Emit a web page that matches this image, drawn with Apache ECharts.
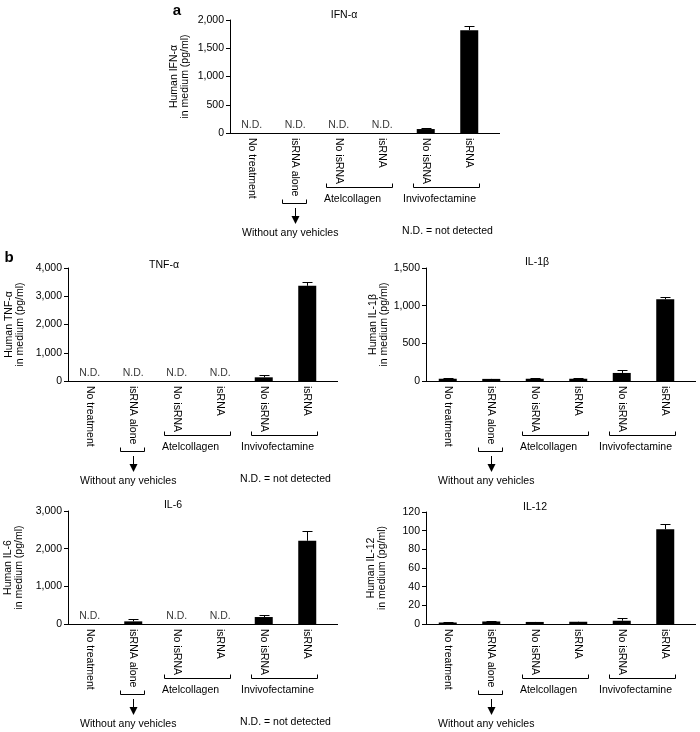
<!DOCTYPE html>
<html><head><meta charset="utf-8">
<script src="https://cdn.jsdelivr.net/npm/echarts@6/dist/echarts.min.js"></script>
<style>html,body{margin:0;padding:0;background:#fff}#c{width:700px;height:732px}</style>
</head><body><div id="c"></div>
<script>
// ---- data ----
const categories = ['No treatment','isRNA alone','No isRNA','isRNA','No isRNA','isRNA'];
const ifnMean  = [null,null,null,null,70,1820];
const ifnErr   = [null,null,null,null,25,75];
const tnfMean  = [null,null,null,null,130,3370];
const tnfErr   = [null,null,null,null,100,150];
const il1bMean = [30,28,30,30,107,1085];
const il1bErr  = [8,5,6,8,44,27];
const il6Mean  = [null,70,null,null,185,2210];
const il6Err   = [null,60,null,null,60,250];
const il12Mean = [1.6,2.7,2.2,2.4,3.5,101.5];
const il12Err  = [0.3,0.3,0.2,0.2,3,6];
const panelTitles = ['IFN-\u03b1','TNF-\u03b1','IL-1\u03b2','IL-6','IL-12'];
const yNames = ['Human IFN-\u03b1\nin medium (pg/ml)','Human TNF-\u03b1\nin medium (pg/ml)','Human IL-1\u03b2\nin medium (pg/ml)','Human IL-6\nin medium (pg/ml)','Human IL-12\nin medium (pg/ml)'];
const yMax  = [2000,4000,1500,3000,120];
const yStep = [500,1000,500,1000,20];
const groupLabels = ['Atelcollagen','Invivofectamine'];
const groupRanges = [[2,3],[4,5]];
const vehicleIndex = 1;
const vehicleNote = 'Without any vehicles';
const ndNote = 'N.D. = not detected';
const ndText = 'N.D.';
const panelLetters = ['a','b'];

const means = [ifnMean, tnfMean, il1bMean, il6Mean, il12Mean];
const errs  = [ifnErr, tnfErr, il1bErr, il6Err, il12Err];

// ---- layout ----
const FONT = '"Liberation Sans", Arial, Helvetica, sans-serif';
const FS = 10.5;
const grids = [
  {left:230, top:20,  width:261, height:113},
  {left:68,  top:268, width:261, height:113},
  {left:426, top:268, width:261, height:113},
  {left:68,  top:511, width:261, height:113},
  {left:426, top:512, width:261, height:112}
];
const axisOverhang = 9;
const nameGaps = [39, 42, 36, 43, 38];
const titlePos = [[344,15],[164,265],[537,262],[173,505],[535,507]];
const letterPos = [[177,11],[9,258]];

const xAxes = [], yAxes = [], series = [];
grids.forEach((g, k) => {
  xAxes.push({
    type:'category', gridIndex:k, data:categories,
    axisLine:{lineStyle:{color:'#000', width:1}},
    axisTick:{show:false},
    axisLabel:{interval:0, rotate:-90, margin:5, color:'#000', fontSize:FS, fontFamily:FONT}
  });
  yAxes.push({
    type:'value', gridIndex:k, min:0, max:yMax[k], interval:yStep[k],
    name:yNames[k], nameLocation:'middle', nameRotate:90, nameGap:nameGaps[k],
    nameTextStyle:{color:'#000', fontSize:FS, fontFamily:FONT, lineHeight:11},
    axisLine:{show:true, lineStyle:{color:'#000', width:1}},
    axisTick:{show:true, length:4, lineStyle:{color:'#000'}},
    splitLine:{show:false},
    axisLabel:{margin:6, color:'#000', fontSize:FS, fontFamily:FONT,
      formatter: v => v.toLocaleString('en-US')}
  });
  series.push({
    type:'bar', xAxisIndex:k, yAxisIndex:k, data:means[k], barWidth:18,
    itemStyle:{color:'#000'}, silent:true, animation:false
  });
  series.push({
    type:'custom', xAxisIndex:k, yAxisIndex:k, animation:false, silent:true, z:5,
    data: means[k].map((m,i) => m == null ? null : [i, m, errs[k][i]]).filter(d => d),
    encode:{x:0, y:1},
    renderItem:(params, api) => {
      const i = api.value(0), m = api.value(1), e = api.value(2);
      const b = api.coord([i, m]); const t = api.coord([i, m + e]);
      const x = Math.round(b[0]) + 0.5;
      const ty = Math.round(t[1]) + 0.5;
      return {type:'group', children:[
        {type:'line', shape:{x1:x, y1:b[1], x2:x, y2:ty}, style:{stroke:'#000', lineWidth:1}},
        {type:'line', shape:{x1:x-5, y1:ty, x2:x+5, y2:ty}, style:{stroke:'#000', lineWidth:1}}
      ]};
    }
  });
  series.push({
    type:'scatter', xAxisIndex:k, yAxisIndex:k, animation:false, silent:true,
    symbolSize:1, itemStyle:{color:'rgba(0,0,0,0)'},
    data: means[k].map((m,i) => m == null ? [i, 0] : null).filter(d => d),
    label:{show:true, position:'top', distance:2, formatter:ndText, color:'#000', fontSize:FS, fontFamily:FONT}
  });
});

const chart = echarts.init(document.getElementById('c'), null, {renderer:'canvas'});
chart.setOption({
  backgroundColor:'#fff', animation:false,
  grid: grids.map(g => Object.assign({containLabel:false}, g)),
  xAxis:xAxes, yAxis:yAxes, series:series
});

// ---- annotations placed from axis positions ----
const elems = [];
function txt(s, x, y, opts){
  elems.push({type:'text', silent:true, style:Object.assign({text:s, x:x, y:y, align:'center', verticalAlign:'middle',
    fill:'#000', fontSize:FS, fontFamily:FONT}, opts || {})});
}
function line(points){
  elems.push({type:'polyline', silent:true, shape:{points:points}, style:{stroke:'#000', lineWidth:1, fill:null}});
}
panelTitles.forEach((t,k) => txt(t, titlePos[k][0], titlePos[k][1]));
panelLetters.forEach((l,k) => txt(l, letterPos[k][0], letterPos[k][1], {fontSize:15, fontWeight:'bold'}));

grids.forEach((g, k) => {
  const cx = i => chart.convertToPixel({xAxisIndex:k, yAxisIndex:k}, [i, 0])[0];
  const y0 = Math.round(chart.convertToPixel({xAxisIndex:k, yAxisIndex:k}, [0, 0])[1]);
  // axis line overhang past the last category
  const gr = g.left + g.width;
  line([[gr, y0 + 0.5],[gr + axisOverhang, y0 + 0.5]]);
  groupRanges.forEach((r, j) => {
    const x1 = Math.round(cx(r[0]) - 13) + 0.5, x2 = Math.round(cx(r[1]) + 10) + 0.5;
    const y = y0 + 54 + 0.5;
    line([[x1, y-4],[x1, y],[x2, y],[x2, y-4]]);
    txt(groupLabels[j], (x1 + x2) / 2 - 7, y0 + 66);
  });
  const c = cx(vehicleIndex);
  const a1 = Math.round(c - 13) + 0.5, a2 = Math.round(c + 11) + 0.5, ay = y0 + 70 + 0.5;
  line([[a1, ay-4],[a1, ay],[a2, ay],[a2, ay-4]]);
  const ax = Math.round(c) + 0.5;
  line([[ax, y0 + 75],[ax, y0 + 85]]);
  elems.push({type:'polygon', silent:true, shape:{points:[[ax-4, y0+83],[ax+4, y0+83],[ax, y0+91]]}, style:{fill:'#000'}});
  txt(vehicleNote, c - 5, y0 + 100);
  if (means[k].some(m => m == null)) {
    txt(ndNote, (cx(4) + cx(5)) / 2, y0 + 98);
  }
});
chart.setOption({graphic:elems});
</script>
</body></html>
